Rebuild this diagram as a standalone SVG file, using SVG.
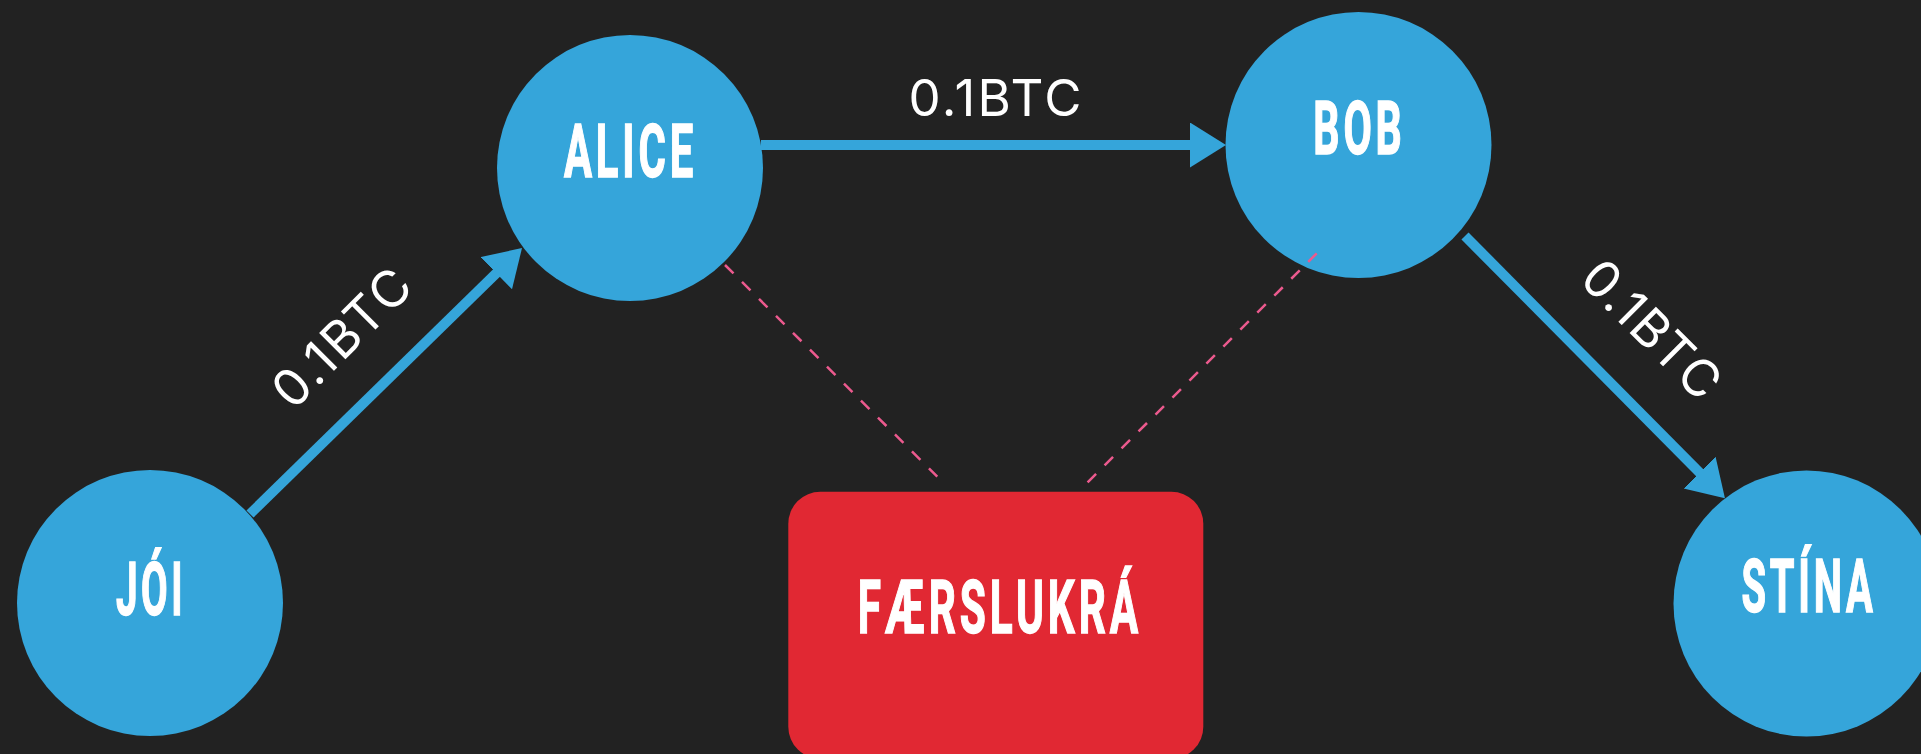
<svg xmlns="http://www.w3.org/2000/svg" width="1921" height="754" viewBox="0 0 1921 754">
  <defs>
    <style>
      .node { fill: #35A5DA; }
      .tx { fill: #ffffff; stroke: #ffffff; stroke-width: 1.5; font-family: Roboto, "Liberation Sans", sans-serif; font-weight: 700; font-size: 75px; letter-spacing: 7px; text-anchor: middle; }
      .lbl { fill: #ffffff; font-family: Inter, "Open Sans", "Liberation Sans", sans-serif; font-weight: 400; font-size: 51px; text-anchor: middle; }
      .edge { fill: none; stroke: #35A5DA; stroke-width: 10; marker-end: url(#arrow); }
      .link { fill: none; stroke: #EC5A8E; stroke-width: 2.5; stroke-dasharray: 12 12; }
    </style>
    <marker id="arrow" markerUnits="userSpaceOnUse" markerWidth="40" markerHeight="46" refX="2" refY="22.5" orient="auto">
      <path d="M0,0 L36,22.5 L0,45 Z" fill="#35A5DA"/>
    </marker>
  </defs>
  <rect x="0" y="0" width="1921" height="754" fill="#222222"/>

  <g id="joi">
    <circle class="node" cx="150" cy="603" r="133"/>
    <text class="tx" transform="translate(151,614.5) scale(0.6,1)" x="0" y="0" textLength="117" lengthAdjust="spacingAndGlyphs">JÓI</text>
  </g>
  <g id="alice">
    <circle class="node" cx="630" cy="168" r="133"/>
    <text class="tx" transform="translate(630.5,176.5) scale(0.6,1)" x="0" y="0" textLength="222" lengthAdjust="spacingAndGlyphs">ALICE</text>
  </g>
  <g id="bob">
    <circle class="node" cx="1358.5" cy="145" r="133"/>
    <text class="tx" transform="translate(1359.5,153.5) scale(0.6,1)" x="0" y="0" textLength="154" lengthAdjust="spacingAndGlyphs">BOB</text>
  </g>
  <g id="stina">
    <circle class="node" cx="1806.5" cy="603.5" r="133"/>
    <text class="tx" transform="translate(1809,612) scale(0.6,1)" x="0" y="0" textLength="225" lengthAdjust="spacingAndGlyphs">STÍNA</text>
  </g>
  <g id="faerslukra">
    <rect x="788.3" y="491.7" width="415" height="267" rx="32" ry="32" fill="#E12833"/>
    <text class="tx" transform="translate(1000,632.8) scale(0.6,1)" x="0" y="0" textLength="474" lengthAdjust="spacingAndGlyphs">FÆRSLUKRÁ</text>
  </g>

  <g id="connectors">
    <path class="edge" d="M250,514 L497.7,271.8"/>
    <path class="edge" d="M761,145 L1192,145"/>
    <path class="edge" d="M1465,236 L1701,474"/>
    <path class="link" d="M725,265 L937.3,476.7"/>
    <path class="link" d="M1316.7,253.3 L1087,483"/>
    <text class="lbl" x="0" y="0" transform="translate(354.5,350.3) rotate(-45)" textLength="173">0.1BTC</text>
    <text class="lbl" x="995" y="116" textLength="173">0.1BTC</text>
    <text class="lbl" x="0" y="0" transform="translate(1638.9,342.1) rotate(45)" textLength="173">0.1BTC</text>
  </g>
</svg>
